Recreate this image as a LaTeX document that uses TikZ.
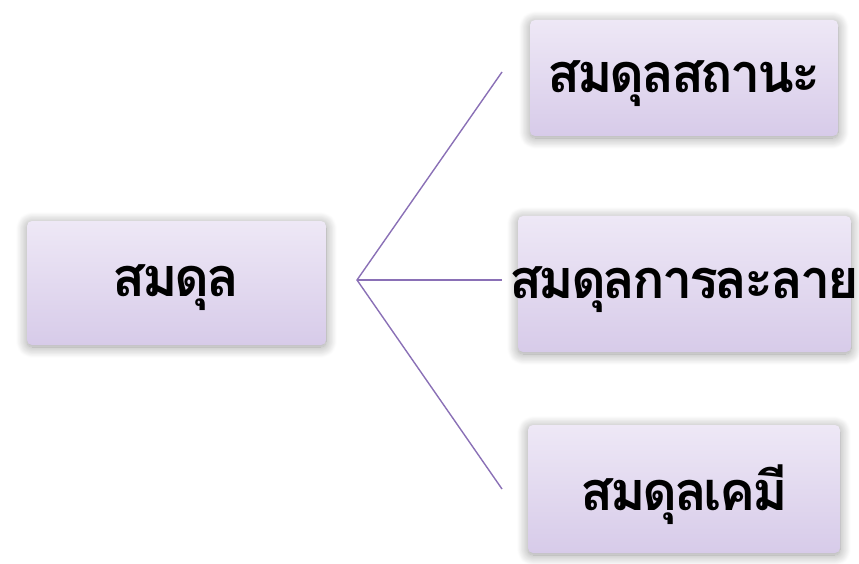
\documentclass[tikz,border=0pt]{standalone}
\usepackage{fontspec}
\newfontfamily\thaifont[Script=Thai,LetterSpace=-6]{Loma}
\usetikzlibrary{shadows.blur}
\definecolor{boxtop}{HTML}{EEE8F6}
\definecolor{boxbot}{HTML}{D7CBE9}
\definecolor{linkcol}{HTML}{8A70B6}
\tikzset{
  px/.style={x=1pt,y=-1pt},
  topicbox/.style={
    rounded corners=5pt,
    top color=boxtop, bottom color=boxbot,
    blur shadow={shadow xshift=0pt, shadow yshift=-2pt,
                 shadow blur radius=11pt, shadow blur steps=14,
                 shadow opacity=40},
  },
  topictext/.style={font=\thaifont\bfseries\fontsize{54}{64}\selectfont, text=black, inner sep=0pt},
  link/.style={draw=linkcol, line width=1.4pt},
}
\begin{document}
\begin{tikzpicture}[px]
  \useasboundingbox (0,0) rectangle (859,564);
  % boxes
  \path[topicbox] (27,221) rectangle (326,345);
  \path[topicbox] (530,20) rectangle (838,136);
  \path[topicbox] (518,216) rectangle (851,352);
  \path[topicbox] (528,425) rectangle (840,553);
  % labels
  \node[topictext] (root) at (176,288) {สมดุล};
  \node[topictext] (a) at (684,84) {สมดุลสถานะ};
  \node[topictext] (b) at (684,290) {สมดุลการละลาย};
  \node[topictext] (c) at (684,495) {สมดุลเคมี};
  % connectors
  \coordinate (hub) at (357,280);
  \coordinate (ea) at (502,72);
  \coordinate (eb) at (502,280);
  \coordinate (ec) at (502,489);
  \draw[link] (ea) -- (hub) -- (ec);
  \draw[link] (hub) -- (eb);
\end{tikzpicture}
\end{document}
